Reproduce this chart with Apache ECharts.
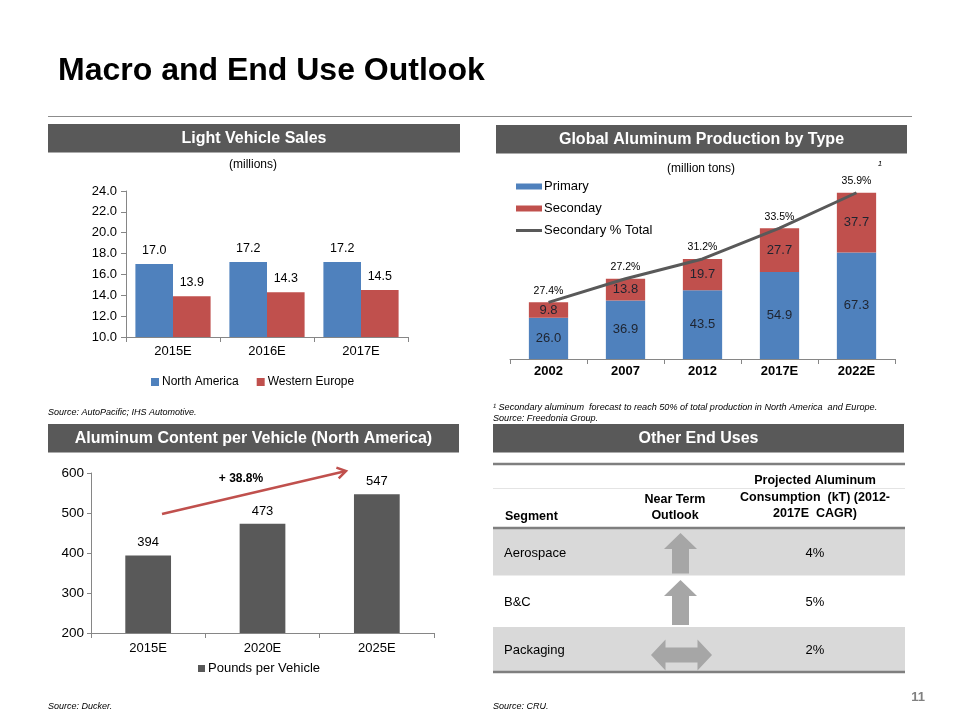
<!DOCTYPE html>
<html><head><meta charset="utf-8">
<script src="https://cdn.jsdelivr.net/npm/echarts@6/dist/echarts.min.js"></script>
<style>html,body{margin:0;padding:0;background:#fff}#c{width:960px;height:720px}</style>
</head><body><div id="c"></div>
<script>
// ---- Light Vehicle Sales (millions)
const lvCategories = ['2015E', '2016E', '2017E'];
const lvNorthAmerica = [17.0, 17.2, 17.2];
const lvWesternEurope = [13.9, 14.3, 14.5];

// ---- Global Aluminum Production by Type (million tons)
const alCategories = ['2002', '2007', '2012', '2017E', '2022E'];
const alPrimary = [26.0, 36.9, 43.5, 54.9, 67.3];
const alSecondary = [9.8, 13.8, 19.7, 27.7, 37.7];
const alSecondaryShare = ['27.4%', '27.2%', '31.2%', '33.5%', '35.9%'];

// ---- Aluminum Content per Vehicle (North America)
const cpvCategories = ['2015E', '2020E', '2025E'];
const cpvPounds = [394, 473, 547];
const cpvGrowthLabel = '+ 38.8%';

// ---- Other End Uses
const endSegments = ['Aerospace', 'B&C', 'Packaging'];
const endOutlook = ['up', 'up', 'flat'];
const endCagr = ['4%', '5%', '2%'];

const FF = '"Liberation Sans", Arial, sans-serif';
const BLUE = '#4F81BD', RED = '#C0504D', DARK = '#595959', AXIS = '#868686';

function txt(x, y, text, font, extra) {
  return { type: 'text', silent: true, z: 10,
    style: Object.assign({ x: x, y: y, text: text, font: font + ' ' + FF, fill: '#000', align: 'left', verticalAlign: 'middle' }, extra || {}) };
}
function rect(x, y, w, h, fill) {
  return { type: 'rect', silent: true, z: 1, shape: { x: x, y: y, width: w, height: h }, style: { fill: fill } };
}
function hline(x1, x2, y, color, w) {
  return { type: 'line', silent: true, z: 5, shape: { x1: x1, y1: y, x2: x2, y2: y }, style: { stroke: color, lineWidth: w } };
}
function header(x, y, w, h, text) {
  return [rect(x, y, w, h, DARK), txt(x + w / 2, y + h / 2 + 0.5, text, 'bold 16px', { fill: '#fff', align: 'center' })];
}
function upArrow(cx, top, bottom) {
  return { type: 'polygon', silent: true, z: 5, shape: { points: [[cx, top], [cx + 16.5, top + 16], [cx + 8.5, top + 16], [cx + 8.5, bottom], [cx - 8.5, bottom], [cx - 8.5, top + 16], [cx - 16.5, top + 16]] }, style: { fill: '#A6A6A6' } };
}
function flatArrow(cx, cy) {
  return { type: 'polygon', silent: true, z: 5, shape: { points: [[cx - 30.5, cy], [cx - 16, cy - 15.5], [cx - 16, cy - 7.5], [cx + 16, cy - 7.5], [cx + 16, cy - 15.5], [cx + 30.5, cy], [cx + 16, cy + 15.5], [cx + 16, cy + 7.5], [cx - 16, cy + 7.5], [cx - 16, cy + 15.5]] }, style: { fill: '#A6A6A6' } };
}

const graphics = [];
// Page title and rule
graphics.push(txt(58, 71, 'Macro and End Use Outlook', 'bold 32px'));
graphics.push(hline(48, 912, 116.5, '#8c8c8c', 1));
// Section headers
graphics.push(...header(48, 124, 412, 28.5, 'Light Vehicle Sales'));
graphics.push(...header(496, 125, 411, 28.5, 'Global Aluminum Production by Type'));
graphics.push(...header(48, 424, 411, 28.5, 'Aluminum Content per Vehicle (North America)'));
graphics.push(...header(493, 424, 411, 28.5, 'Other End Uses'));
// Units and notes
graphics.push(txt(253, 165, '(millions)', '12px', { align: 'center' }));
graphics.push(txt(701, 169, '(million tons)', '12px', { align: 'center' }));
graphics.push(txt(880, 164, '1', 'italic 8px', { align: 'center' }));
graphics.push(txt(48, 412, 'Source: AutoPacific; IHS Automotive.', 'italic 9px'));
graphics.push(txt(493, 407, '\u00B9 Secondary aluminum  forecast to reach 50% of total production in North America  and Europe.', 'italic 9.1px'));
graphics.push(txt(493, 418, 'Source: Freedonia Group.', 'italic 9.1px'));
graphics.push(txt(48, 706, 'Source: Ducker.', 'italic 9px'));
graphics.push(txt(493, 706, 'Source: CRU.', 'italic 9px'));
graphics.push(txt(918, 697, '11', 'bold 13px', { fill: '#808080', align: 'center' }));
// Growth arrow on content-per-vehicle chart
graphics.push({ type: 'line', silent: true, z: 10, shape: { x1: 162, y1: 514, x2: 345, y2: 471.3 }, style: { stroke: RED, lineWidth: 2.5 } });
graphics.push({ type: 'polyline', silent: true, z: 10, shape: { points: [[336.4, 467.6], [346, 471], [338.7, 478.3]] }, style: { stroke: RED, lineWidth: 2.5, fill: null } });
graphics.push(txt(241, 479, cpvGrowthLabel, 'bold 12px', { align: 'center' }));

// Other End Uses table
const tblL = 493, tblR = 905;
graphics.push(hline(tblL, tblR, 464, '#7f7f7f', 2.5));
graphics.push(hline(tblL, tblR, 488.5, '#e4e4e4', 1));
graphics.push(txt(505, 517, 'Segment', 'bold 12.5px'));
graphics.push(txt(675, 500, 'Near Term', 'bold 12.5px', { align: 'center' }));
graphics.push(txt(675, 516, 'Outlook', 'bold 12.5px', { align: 'center' }));
graphics.push(txt(815, 481, 'Projected Aluminum', 'bold 12.5px', { align: 'center' }));
graphics.push(txt(815, 498, 'Consumption  (kT) (2012-', 'bold 12.5px', { align: 'center' }));
graphics.push(txt(815, 514, '2017E  CAGR)', 'bold 12.5px', { align: 'center' }));
const rowTops = [529, 576, 627];
const rowBottoms = [575.5, 627, 671];
endSegments.forEach(function (seg, i) {
  const t = rowTops[i], b = rowBottoms[i], cy = (t + b) / 2;
  if (i % 2 === 0) graphics.push(rect(tblL, t, tblR - tblL, b - t, '#d9d9d9'));
  graphics.push(txt(504, cy + 1, seg, '13px'));
  graphics.push(txt(815, cy + 1, endCagr[i], '13px', { align: 'center' }));
  if (endOutlook[i] === 'up') graphics.push(upArrow(680.5, t + 4, b - 2));
  else graphics.push(flatArrow(681.5, cy + 6));
});
graphics.push(hline(tblL, tblR, 528, '#7f7f7f', 2.5));
graphics.push(hline(tblL, tblR, 672, '#7f7f7f', 2.5));

const axisLineStyle = { lineStyle: { color: AXIS, width: 1 } };

const option = {
  animation: false,
  backgroundColor: '#fff',
  textStyle: { fontFamily: FF },
  graphic: { elements: graphics },
  legend: [
    { left: 146, top: 371, itemWidth: 8, itemHeight: 8, itemGap: 18, icon: 'rect',
      data: ['North America', 'Western Europe'], textStyle: { fontSize: 12, color: '#000', padding: [0, 0, 0, -2] } },
    { left: 511, top: 175, orient: 'vertical', itemWidth: 26, itemHeight: 6, itemGap: 9,
      data: [{ name: 'Primary', icon: 'rect' }, { name: 'Seconday', icon: 'rect' },
             { name: 'Secondary % Total', icon: 'path://M0,0H26V3H0Z' }],
      textStyle: { fontSize: 13, color: '#000', padding: [0, 0, 0, -3] } },
    { left: 193, top: 657, itemWidth: 7, itemHeight: 7, icon: 'rect',
      data: ['Pounds per Vehicle'], textStyle: { fontSize: 13, color: '#000', padding: [0, 0, 0, -2] } }
  ],
  grid: [
    { left: 126, top: 191, width: 282, height: 146 },
    { left: 510, top: 169, width: 385, height: 190 },
    { left: 91, top: 473, width: 343, height: 160 }
  ],
  xAxis: [
    { gridIndex: 0, type: 'category', data: lvCategories, axisLine: axisLineStyle,
      axisTick: { show: true, length: 5, lineStyle: { color: AXIS } },
      axisLabel: { fontSize: 13, color: '#000', margin: 8 } },
    { gridIndex: 1, type: 'category', data: alCategories, axisLine: axisLineStyle,
      axisTick: { show: true, length: 5, lineStyle: { color: AXIS } },
      axisLabel: { fontSize: 13, fontWeight: 'bold', color: '#000', margin: 6 } },
    { gridIndex: 2, type: 'category', data: cpvCategories, axisLine: axisLineStyle,
      axisTick: { show: true, length: 5, lineStyle: { color: AXIS } },
      axisLabel: { fontSize: 13, color: '#000', margin: 9 } }
  ],
  yAxis: [
    { gridIndex: 0, type: 'value', min: 10, max: 24, interval: 2, axisLine: { show: true, lineStyle: { color: AXIS } },
      axisTick: { show: true, length: 5, lineStyle: { color: AXIS } }, splitLine: { show: false },
      axisLabel: { fontSize: 13, color: '#000', margin: 9, formatter: function (v) { return v.toFixed(1); } } },
    { gridIndex: 1, type: 'value', min: 0, max: 120, show: false, splitLine: { show: false } },
    { gridIndex: 2, type: 'value', min: 200, max: 600, interval: 100, axisLine: { show: true, lineStyle: { color: AXIS } },
      axisTick: { show: true, length: 4, lineStyle: { color: AXIS } }, splitLine: { show: false },
      axisLabel: { fontSize: 13.5, color: '#000', margin: 7 } }
  ],
  series: [
    { name: 'North America', type: 'bar', xAxisIndex: 0, yAxisIndex: 0, data: lvNorthAmerica,
      itemStyle: { color: BLUE }, barGap: '0%', barCategoryGap: '20%',
      label: { show: true, position: 'top', distance: 7, fontSize: 12.5, color: '#000', formatter: function (p) { return p.value.toFixed(1); } } },
    { name: 'Western Europe', type: 'bar', xAxisIndex: 0, yAxisIndex: 0, data: lvWesternEurope,
      itemStyle: { color: RED }, barGap: '0%', barCategoryGap: '20%',
      label: { show: true, position: 'top', distance: 7, fontSize: 12.5, color: '#000', formatter: function (p) { return p.value.toFixed(1); } } },

    { name: 'Primary', type: 'bar', stack: 'al', xAxisIndex: 1, yAxisIndex: 1, data: alPrimary,
      itemStyle: { color: BLUE }, barCategoryGap: '49%',
      label: { show: true, position: 'inside', fontSize: 13, color: '#1e2430', formatter: function (p) { return p.value.toFixed(1); } } },
    { name: 'Seconday', type: 'bar', stack: 'al', xAxisIndex: 1, yAxisIndex: 1, data: alSecondary,
      itemStyle: { color: RED }, barCategoryGap: '49%',
      label: { show: true, position: 'inside', fontSize: 13, color: '#1e2430', formatter: function (p) { return p.value.toFixed(1); } } },
    { name: 'Secondary % Total', type: 'line', xAxisIndex: 1, yAxisIndex: 1, z: 5,
      data: alPrimary.map(function (v, i) { return +(v + alSecondary[i]).toFixed(1); }),
      symbol: 'circle', symbolSize: 0, showSymbol: true,
      lineStyle: { color: DARK, width: 3 }, itemStyle: { color: DARK },
      label: { show: true, position: 'top', distance: 6, fontSize: 10.5, color: '#000',
        formatter: function (p) { return alSecondaryShare[p.dataIndex]; } } },

    { name: 'Pounds per Vehicle', type: 'bar', xAxisIndex: 2, yAxisIndex: 2, data: cpvPounds,
      itemStyle: { color: DARK }, barCategoryGap: '60%',
      label: { show: true, position: 'top', distance: 6, fontSize: 13, color: '#000' } }
  ]
};

const chart = echarts.init(document.getElementById('c'), null, { renderer: 'canvas' });
chart.setOption(option);
</script>
</body></html>
